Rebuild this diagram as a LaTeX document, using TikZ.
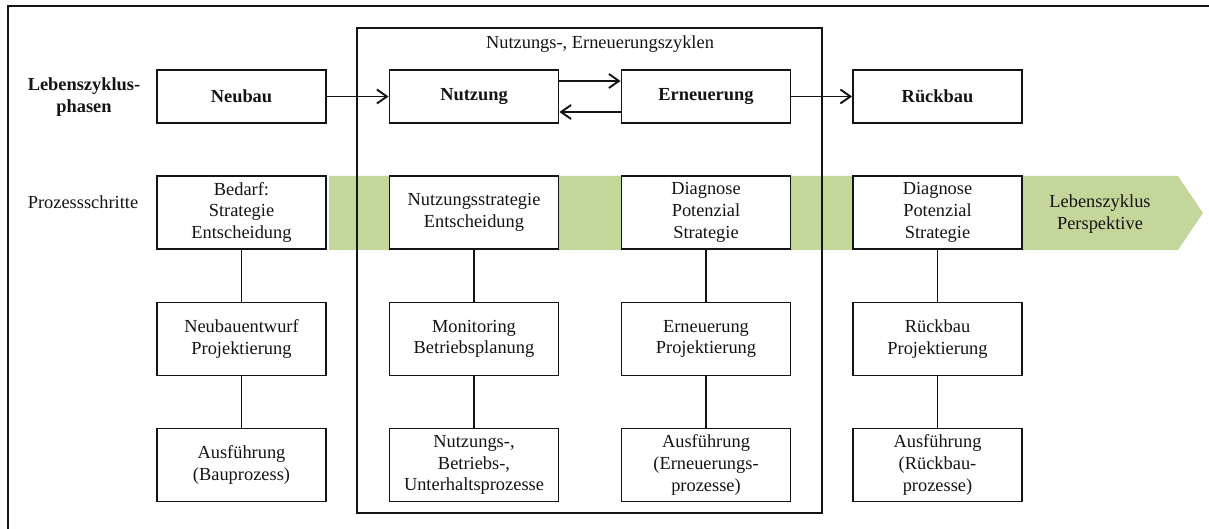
\documentclass[tikz,border=0pt]{standalone}
\usepackage{fontspec}
\setmainfont{Liberation Serif}
\usetikzlibrary{arrows.meta}
\definecolor{bandgreen}{RGB}{196,215,155}
\definecolor{ink}{RGB}{20,20,20}
\begin{document}
\begin{tikzpicture}[x=1pt,y=-1pt,
  every node/.style={font=\fontsize{18.4}{21.7}\selectfont, text=ink},
  phasebox/.style={draw=ink, line width=1.9pt, fill=white, minimum width=169pt, minimum height=53pt, inner sep=0pt, font=\fontsize{18.4}{21.7}\selectfont\bfseries},
  stepbox/.style={draw=ink, line width=1.9pt, fill=white, minimum width=169pt, minimum height=73pt, inner sep=0pt, align=center},
  link/.style={draw=ink, line width=1.9pt},
  flow/.style={draw=ink, line width=1.9pt, -{Straight Barb[length=10pt,width=14pt,line width=1.9pt]}}]
\useasboundingbox (0,0) rectangle (1209,529);
% outer frame (top and left edges)
\draw[ink, line width=1.9pt] (1209,6) -- (8,6) -- (8,529);
% green life-cycle band
\fill[bandgreen] (329,176) -- (1178,176) -- (1203,213) -- (1178,250) -- (329,250) -- cycle;
% usage / renewal cycle frame
\draw[ink, line width=1.9pt] (357,28) rectangle (822,513);
\node (cyc) at (600,44) {Nutzungs-, Erneuerungszyklen};
% row labels
\node[align=center, font=\fontsize{18.4}{21.7}\selectfont\bfseries] (lzp) at (84,97) {Lebenszyklus-\\phasen};
\node (ps) at (83,202) {Prozessschritte};
\node[align=center] (lp) at (1100,214) {Lebenszyklus\\Perspektive};
% life-cycle phases
\node[phasebox] (neu) at (241.5,96.5) {Neubau};
\node[phasebox] (nut) at (474,96.5) {Nutzung};
\node[phasebox] (ern) at (706,96.5) {Erneuerung};
\node[phasebox] (rue) at (937.5,96.5) {Rückbau};
% process steps
\node[stepbox] (a1) at (241.5,212.5) {Bedarf:\\Strategie\\Entscheidung};
\node[stepbox] (a2) at (241.5,339) {Neubauentwurf\\Projektierung};
\node[stepbox] (a3) at (241.5,465) {Ausführung\\(Bauprozess)};
\node[stepbox] (b1) at (474,212.5) {Nutzungsstrategie\\Entscheidung};
\node[stepbox] (b2) at (474,339) {Monitoring\\Betriebsplanung};
\node[stepbox] (b3) at (474,465) {Nutzungs-,\\Betriebs-,\\Unterhaltsprozesse};
\node[stepbox] (c1) at (706,212.5) {Diagnose\\Potenzial\\Strategie};
\node[stepbox] (c2) at (706,339) {Erneuerung\\Projektierung};
\node[stepbox] (c3) at (706,465) {Ausführung\\(Erneuerungs-\\prozesse)};
\node[stepbox] (d1) at (937.5,212.5) {Diagnose\\Potenzial\\Strategie};
\node[stepbox] (d2) at (937.5,339) {Rückbau\\Projektierung};
\node[stepbox] (d3) at (937.5,465) {Ausführung\\(Rückbau-\\prozesse)};
% vertical links between steps
\foreach \p in {a,b,c,d} {
  \draw[link] (\p1) -- (\p2);
  \draw[link] (\p2) -- (\p3);
}
% phase transitions
\draw[flow] (neu) -- (nut);
\draw[flow] (ern) -- (rue);
\draw[flow] ([yshift=15.5pt]nut.east) -- ([yshift=15.5pt]ern.west);
\draw[flow] ([yshift=-15.5pt]ern.west) -- ([yshift=-15.5pt]nut.east);
\end{tikzpicture}
\end{document}
